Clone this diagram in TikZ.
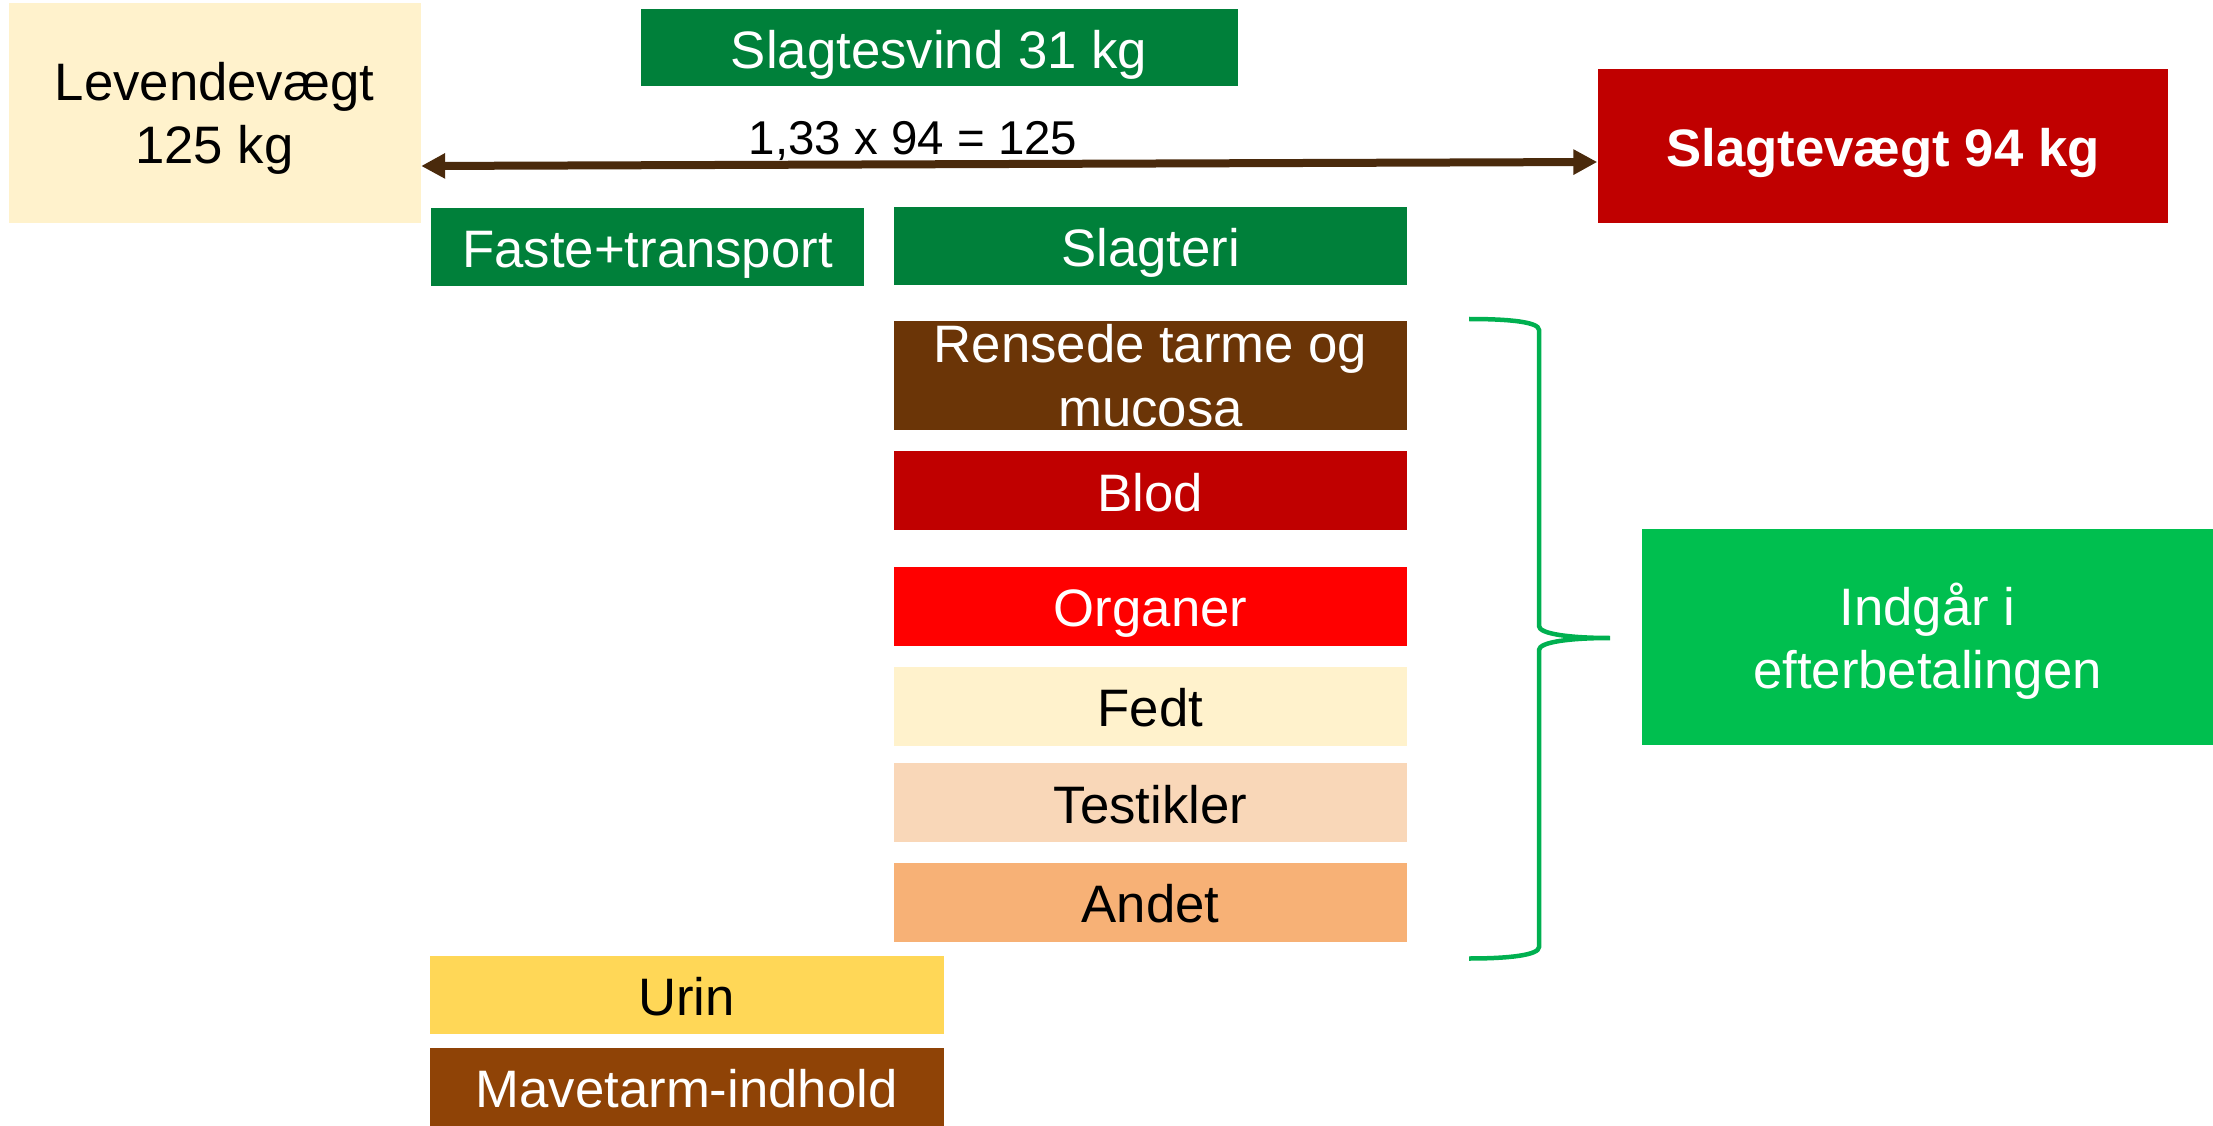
\documentclass[tikz,border=0pt]{standalone}
\usepackage{fontspec}
\setmainfont{Liberation Sans}
\usepackage{tikz}
\usetikzlibrary{calc,positioning,arrows.meta}

\definecolor{slgreen}{HTML}{00803A}
\definecolor{lightgreen}{HTML}{00BF4F}
\definecolor{bracegreen}{HTML}{00B050}
\definecolor{darkred}{HTML}{C00000}
\definecolor{cream}{HTML}{FFF2CC}
\definecolor{tarmbrown}{HTML}{6B3507}
\definecolor{mavebrown}{HTML}{8F4306}
\definecolor{peach}{HTML}{F9D7B8}
\definecolor{apricot}{HTML}{F7B176}
\definecolor{urinyellow}{HTML}{FFD757}
\definecolor{arrowbrown}{HTML}{4A2A0C}

\begin{document}
\begin{tikzpicture}[>={Triangle[length=0.24cm,width=0.24cm]},
    box/.style={rectangle,draw=none,inner sep=0pt,align=center,font=\fontsize{15}{18}\selectfont},
    oneline/.style={box,text height=15pt,text depth=3.3pt},
    greenbox/.style={oneline,fill=slgreen,text=white,minimum height=0.78cm},
    brace/.style={draw=bracegreen,line width=0.045cm}]

    \useasboundingbox (0,0) rectangle (22.13,-11.26);

    % live weight and carcass weight
    \node (lev) at (2.145,-1.13) [box,text depth=-0.6pt,fill=cream,minimum width=4.12cm,minimum height=2.2cm] {Levendevægt\\125 kg};
    \node (slv) at (18.83,-1.46) [oneline,fill=darkred,text=white,minimum width=5.7cm,minimum height=1.54cm,font=\fontsize{15}{18}\selectfont\bfseries] {Slagtevægt 94 kg};
    \draw[<->,draw=arrowbrown,fill=arrowbrown,line width=0.08cm] ([yshift=-0.53cm]lev.east) -- ([yshift=-0.16cm]slv.west);
    \node (calc) at (9.13,-1.41) [font=\fontsize{13.5}{16}\selectfont] {1,33 x 94 = 125};

    % losses
    \node (svind) at (9.39,-0.48) [greenbox,minimum width=5.97cm,minimum height=0.77cm] {Slagtesvind 31 kg};
    \node (faste) at (6.475,-2.47) [greenbox,minimum width=4.33cm] {Faste+transport};
    \node (slagteri) at (11.505,-2.46) [greenbox,minimum width=5.13cm] {Slagteri};

    % slaughterhouse column
    \node (rens) at (11.505,-3.757) [box,fill=tarmbrown,text=white,minimum width=5.13cm,minimum height=1.085cm] {Rensede tarme og\\mucosa};
    \node (blod) at (11.505,-4.907) [oneline,fill=darkred,text=white,minimum width=5.13cm,minimum height=0.786cm] {Blod};
    \node (organ) at (11.505,-6.063) [oneline,fill=red,text=white,minimum width=5.13cm,minimum height=0.786cm] {Organer};
    \node (fedt) at (11.505,-7.063) [oneline,fill=cream,minimum width=5.13cm,minimum height=0.786cm] {Fedt};
    \node (testik) at (11.505,-8.025) [oneline,fill=peach,minimum width=5.13cm,minimum height=0.786cm] {Testikler};
    \node (andet) at (11.505,-9.023) [oneline,fill=apricot,minimum width=5.13cm,minimum height=0.786cm] {Andet};

    % fasting column
    \node (urin) at (6.866,-9.95) [oneline,fill=urinyellow,minimum width=5.14cm,minimum height=0.78cm] {Urin};
    \node (mave) at (6.866,-10.87) [oneline,fill=mavebrown,text=white,minimum width=5.14cm,minimum height=0.78cm] {Mavetarm-indhold};

    % brace
    \draw[brace] (14.69,-3.19) .. controls (15.10,-3.19) and (15.39,-3.22) .. (15.39,-3.30)
        -- (15.39,-6.26) .. controls (15.39,-6.34) and (15.70,-6.38) .. (16.10,-6.38)
        .. controls (15.70,-6.38) and (15.39,-6.42) .. (15.39,-6.50)
        -- (15.39,-9.47) .. controls (15.39,-9.55) and (15.10,-9.585) .. (14.69,-9.585);
    \node (indg) at (19.275,-6.37) [box,text depth=0.6pt,fill=lightgreen,text=white,minimum width=5.71cm,minimum height=2.16cm] {Indgår i\\efterbetalingen};

\end{tikzpicture}
\end{document}
